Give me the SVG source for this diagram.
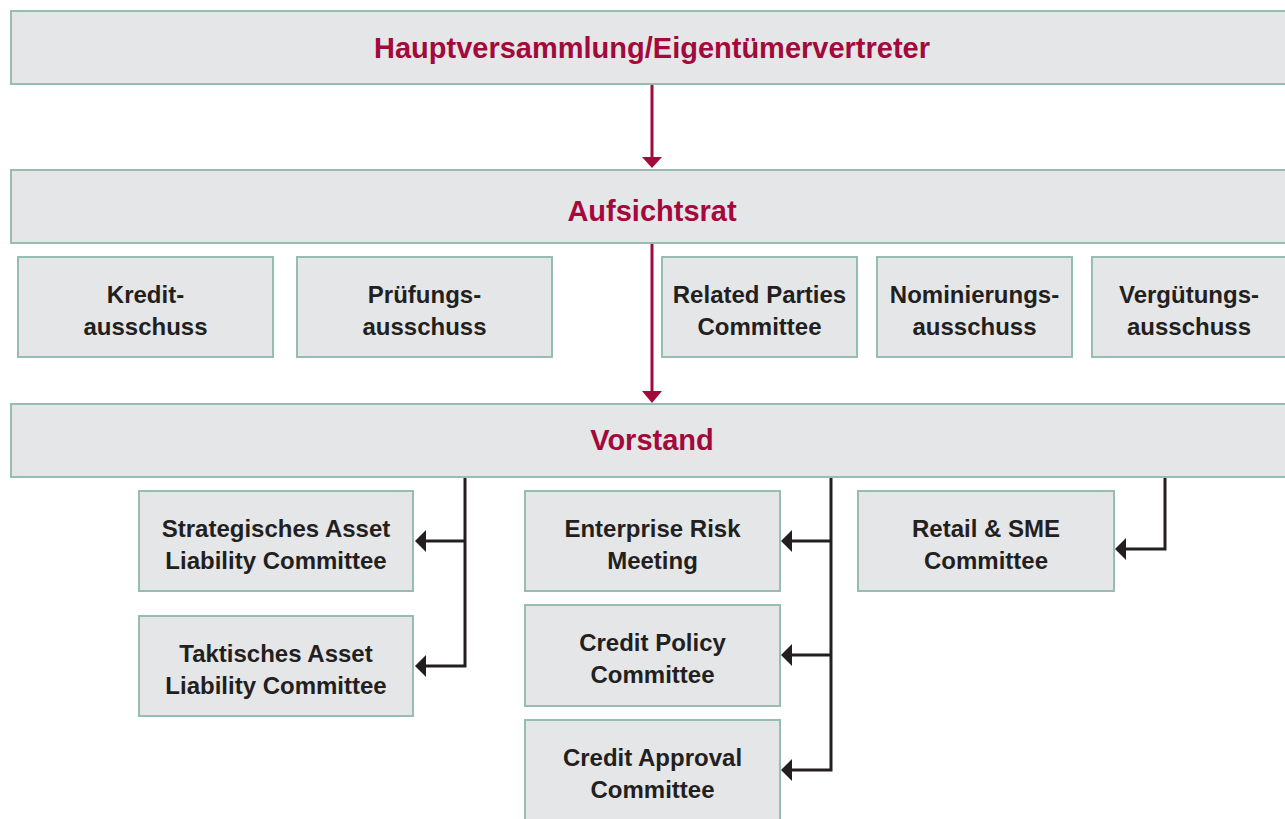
<svg xmlns="http://www.w3.org/2000/svg" width="1285" height="819" viewBox="0 0 1285 819">
<defs>
<style>
.box{fill:#e5e6e8;stroke:#97bdb0;stroke-width:2}
.t{font-family:"Liberation Sans",Arial,sans-serif;font-weight:bold;font-size:24px;fill:#231f20;text-anchor:middle}
.h{font-family:"Liberation Sans",Arial,sans-serif;font-weight:bold;font-size:29px;fill:#a3093a;text-anchor:middle}
.red{stroke:#a3093a;stroke-width:3;fill:none}
.blk{stroke:#231f20;stroke-width:3;fill:none}
</style>
</defs>
<rect width="1285" height="819" fill="#ffffff"/>
<g id="connectors">
<line class="red" x1="652" y1="84" x2="652" y2="158"/>
<path d="M642,157L662,157L652,168z" fill="#a3093a"/>
<line class="red" x1="652" y1="244" x2="652" y2="392"/>
<path d="M642,391L662,391L652,403z" fill="#a3093a"/>
<path class="blk" d="M465,478V666H426M465,541H426"/>
<path d="M415,541L426,530L426,552z" fill="#231f20"/>
<path d="M415,666L426,655L426,677z" fill="#231f20"/>
<path class="blk" d="M831,478V770H792M831,541H792M831,655H792"/>
<path d="M781,541L792,530L792,552z" fill="#231f20"/>
<path d="M781,655L792,644L792,666z" fill="#231f20"/>
<path d="M781,770L792,759L792,781z" fill="#231f20"/>
<path class="blk" d="M1165,478V549H1126"/>
<path d="M1115,549L1126,538L1126,560z" fill="#231f20"/>
</g>
<g id="hauptversammlung"><rect class="box" x="11" y="11" width="1280" height="73"/><text class="h" x="652" y="58">Hauptversammlung/Eigentümervertreter</text></g>
<g id="aufsichtsrat"><rect class="box" x="11" y="170" width="1280" height="73"/><text class="h" x="652" y="221">Aufsichtsrat</text></g>
<g id="kredit"><rect class="box" x="18" y="257" width="255" height="100"/><text class="t" x="145.5" y="303">Kredit-</text><text class="t" x="145.5" y="335">ausschuss</text></g>
<g id="pruefung"><rect class="box" x="297" y="257" width="255" height="100"/><text class="t" x="424.5" y="303">Prüfungs-</text><text class="t" x="424.5" y="335">ausschuss</text></g>
<g id="related"><rect class="box" x="662" y="257" width="195" height="100"/><text class="t" x="759.5" y="303">Related Parties</text><text class="t" x="759.5" y="335">Committee</text></g>
<g id="nominierung"><rect class="box" x="877" y="257" width="195" height="100"/><text class="t" x="974.5" y="303">Nominierungs-</text><text class="t" x="974.5" y="335">ausschuss</text></g>
<g id="verguetung"><rect class="box" x="1092" y="257" width="200" height="100"/><text class="t" x="1189" y="303">Vergütungs-</text><text class="t" x="1189" y="335">ausschuss</text></g>
<g id="vorstand"><rect class="box" x="11" y="404" width="1280" height="73"/><text class="h" x="652" y="450">Vorstand</text></g>
<g id="strat"><rect class="box" x="139" y="491" width="274" height="100"/><text class="t" x="276" y="537">Strategisches Asset</text><text class="t" x="276" y="569">Liability Committee</text></g>
<g id="takt"><rect class="box" x="139" y="616" width="274" height="100"/><text class="t" x="276" y="662">Taktisches Asset</text><text class="t" x="276" y="694">Liability Committee</text></g>
<g id="erm"><rect class="box" x="525" y="491" width="255" height="100"/><text class="t" x="652.5" y="537">Enterprise Risk</text><text class="t" x="652.5" y="569">Meeting</text></g>
<g id="cpc"><rect class="box" x="525" y="605" width="255" height="101"/><text class="t" x="652.5" y="651">Credit Policy</text><text class="t" x="652.5" y="683">Committee</text></g>
<g id="cac"><rect class="box" x="525" y="720" width="255" height="110"/><text class="t" x="652.5" y="766">Credit Approval</text><text class="t" x="652.5" y="798">Committee</text></g>
<g id="retail"><rect class="box" x="858" y="491" width="256" height="100"/><text class="t" x="986" y="537">Retail &amp; SME</text><text class="t" x="986" y="569">Committee</text></g>
</svg>
